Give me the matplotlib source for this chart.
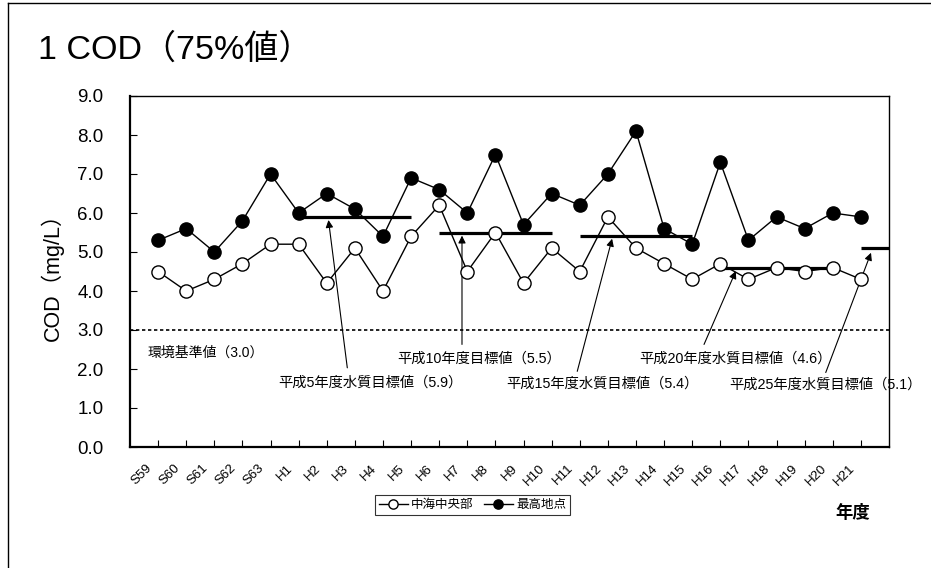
import matplotlib
matplotlib.use('Agg')
import matplotlib.pyplot as plt
from matplotlib.transforms import ScaledTranslation

plt.rcParams['font.family'] = ['Liberation Sans', 'Noto Sans CJK JP', 'DejaVu Sans']

# 年度
years = ['S59', 'S60', 'S61', 'S62', 'S63', 'H1', 'H2', 'H3', 'H4', 'H5',
         'H6', 'H7', 'H8', 'H9', 'H10', 'H11', 'H12', 'H13', 'H14', 'H15',
         'H16', 'H17', 'H18', 'H19', 'H20', 'H21']

# COD 75%値
central = [4.5, 4.0, 4.3, 4.7, 5.2, 5.2, 4.2, 5.1, 4.0, 5.4,
           6.2, 4.5, 5.5, 4.2, 5.1, 4.5, 5.9, 5.1, 4.7, 4.3,
           4.7, 4.3, 4.6, 4.5, 4.6, 4.3]
highest = [5.3, 5.6, 5.0, 5.8, 7.0, 6.0, 6.5, 6.1, 5.4, 6.9,
           6.6, 6.0, 7.5, 5.7, 6.5, 6.2, 7.0, 8.1, 5.6, 5.2,
           7.3, 5.3, 5.9, 5.6, 6.0, 5.9]

# 水質目標値
goal_values = [5.9, 5.5, 5.4, 4.6, 5.1]
goal_start = [6, 11, 16, 21, 26]
goal_end = [10, 15, 20, 25, 27]
goal_labels = ['平成5年度水質目標値（5.9）', '平成10年度目標値（5.5）',
               '平成15年度水質目標値（5.4）', '平成20年度水質目標値（4.6）',
               '平成25年度水質目標値（5.1）']
# label position, arrow tail, arrow tip (data coords)
label_pos = [(5.26, 1.65), (9.50, 2.26), (13.39, 1.63), (18.10, 2.26), (21.30, 1.60)]
arrow_tail = [(7.73, 2.03), (11.81, 2.63), (15.91, 1.94), (20.42, 2.63), (24.75, 1.91)]
arrow_tip = [(7.06, 5.82), (11.81, 5.42), (17.15, 5.34), (21.55, 4.51), (26.36, 4.98)]

standard = 3.0

x = list(range(1, len(years) + 1))

fig = plt.figure(figsize=(9.31, 5.68), dpi=100)
ax = fig.add_axes([130 / 931, 1 - 447 / 568, 759 / 931, 351 / 568])

ax.plot(x, central, color='black', lw=1, marker='o', markersize=9.5,
        markerfacecolor='white', markeredgecolor='black', markeredgewidth=1,
        label='中海中央部', zorder=4)
ax.plot(x, highest, color='black', lw=1, marker='o', markersize=9.5,
        markerfacecolor='black', markeredgecolor='black',
        label='最高地点', zorder=4)

for v, s, e in zip(goal_values, goal_start, goal_end):
    ax.plot([s, e], [v, v], color='black', lw=2.3, solid_capstyle='butt', zorder=3)

ax.axhline(standard, color='black', lw=1.2, linestyle=(0, (2, 1.6)), zorder=2)
ax.text(0.64, 2.42, '環境基準値（3.0）', fontsize=10, ha='left', va='center')

for lab, p, t, tip in zip(goal_labels, label_pos, arrow_tail, arrow_tip):
    ax.text(p[0], p[1], lab, fontsize=10.3, ha='left', va='center')
    ax.annotate('', xy=tip, xytext=t,
                arrowprops=dict(arrowstyle='-|>', color='black', lw=0.8,
                                shrinkA=0, shrinkB=0, mutation_scale=11))

ax.set_xlim(0, 27)
ax.set_ylim(0, 9)
ax.set_xticks(x)
ax.set_xticklabels(years, rotation=45, ha='right', fontsize=9.5)
ax.set_yticks(range(0, 10))
ax.set_yticklabels(['%.1f' % v for v in range(0, 10)], fontsize=13.5)
ax.tick_params(axis='both', direction='in', length=5, width=0.8)
ax.tick_params(axis='y', pad=19)
ax.tick_params(axis='x', pad=11)
for lbl in ax.get_xticklabels():
    lbl.set_transform(lbl.get_transform() + ScaledTranslation(-4 / 100, 0, fig.dpi_scale_trans))

for side in ['left', 'bottom']:
    ax.spines[side].set_linewidth(1.6)
for side in ['top', 'right']:
    ax.spines[side].set_linewidth(1.0)

# y軸ラベル
fig.text(52 / 931, 1 - 272 / 568, 'COD（mg/L）', fontsize=15.5, rotation=90,
         ha='center', va='center')

fig.text(38 / 931, 1 - 50 / 568, '1 COD（75%値）', fontsize=24.5, ha='left', va='center')
fig.text(853 / 931, 1 - 513 / 568, '年度', fontsize=12.5, ha='center', va='center',
         fontweight='bold')

leg = ax.legend(loc='center', bbox_to_anchor=(472.5 / 931, 1 - 505 / 568),
                bbox_transform=fig.transFigure, ncol=2, fontsize=9,
                frameon=True, fancybox=False, edgecolor='black',
                handlelength=2.3, handletextpad=0.3, columnspacing=0.8,
                borderpad=0.3, markerscale=0.7)
leg.get_frame().set_linewidth(0.8)

# outer frame
fig.add_artist(plt.Line2D([8 / 931, 8 / 931], [0, 1 - 3 / 568], color='black', lw=1,
                          transform=fig.transFigure))
fig.add_artist(plt.Line2D([8 / 931, 1], [1 - 3 / 568, 1 - 3 / 568], color='black', lw=1,
                          transform=fig.transFigure))

fig.savefig('out.png', dpi=100)
